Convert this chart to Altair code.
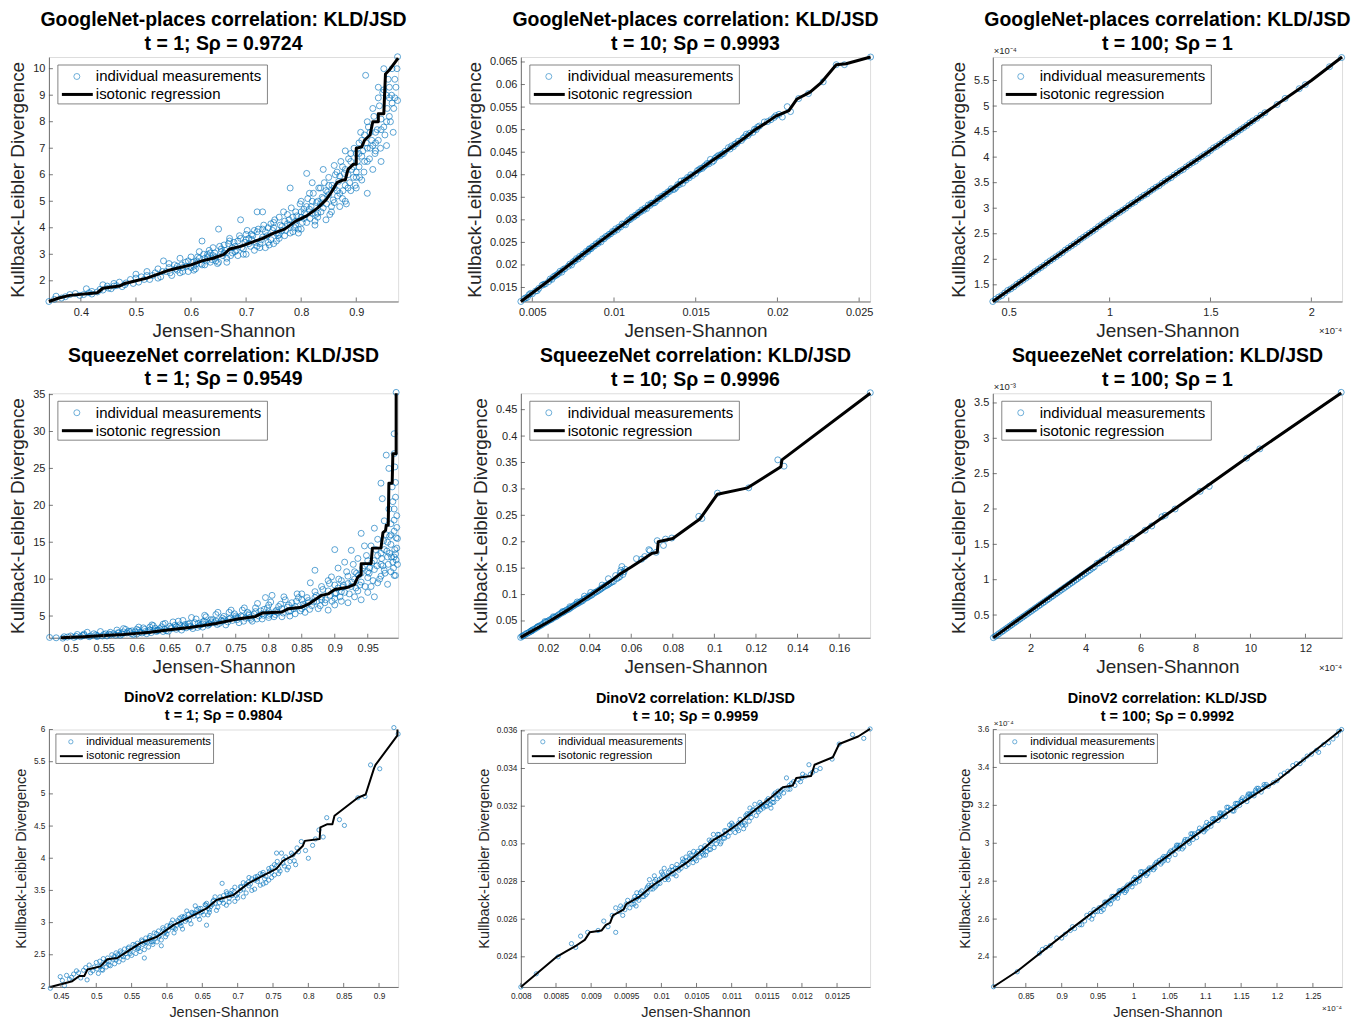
import altair as alt
import pandas as pd

BLUE = "#0072BD"
GRAY = "#262626"
AXC = "#555555"
FONT = "Liberation Sans"

# ---------------- GoogleNet-places, t = 1 ----------------
p1_x = [0.342,0.355,0.365,0.38,0.39,0.405,0.41,0.42,0.43,0.44,0.45,0.46,0.47,0.475,0.49,0.50,
        0.505,0.51,0.52,0.525,0.53,0.54,0.545,0.55,0.555,0.56,0.565,0.57,0.575,0.58,0.585,0.59,0.595,0.60,
        0.605,0.61,0.615,0.62,0.62,0.625,0.63,0.635,0.64,0.645,0.65,0.65,0.655,0.66,0.665,0.67,0.675,0.68,0.685,0.69,0.69,0.695,0.70,0.70,
        0.705,0.71,0.715,0.72,0.72,0.725,0.73,0.73,0.735,0.74,0.745,0.75,0.75,0.755,0.76,0.76,0.765,0.77,0.775,0.78,0.78,0.785,0.79,0.79,0.795,0.80,0.80,0.80,
        0.805,0.81,0.81,0.815,0.82,0.82,0.825,0.83,0.83,0.835,0.84,0.84,0.845,0.85,0.85,0.855,0.86,0.86,0.865,0.87,0.87,0.875,0.88,0.88,0.88,0.885,0.89,0.89,0.895,0.90,0.90,0.90,
        0.905,0.905,0.91,0.91,0.915,0.917,0.92,0.92,0.92,0.925,0.93,0.93,0.935,0.935,0.94,0.94,0.945,0.945,0.95,0.95,0.955,0.955,0.96,0.96,0.965,0.967,0.97,0.975,0.975]
p1_y = [1.22,1.42,1.35,1.48,1.52,1.48,1.7,1.6,1.58,1.85,1.72,1.9,1.95,1.78,2.05,2.25,
        1.95,2.15,2.35,2.05,2.2,2.45,2.15,2.75,2.35,2.5,2.2,2.6,2.4,2.85,2.5,2.7,2.35,2.9,
        2.55,2.75,3.1,2.6,3.5,2.85,3.0,2.7,3.25,2.9,3.95,2.7,3.1,3.35,2.85,3.5,3.05,3.3,2.95,4.3,3.6,3.2,3.75,3.0,
        3.4,3.55,3.15,4.6,3.85,3.4,4.6,3.65,3.25,4.0,3.55,4.2,3.4,3.8,4.4,3.6,4.05,3.7,4.5,5.5,4.1,3.85,4.6,4.25,3.95,5.0,4.4,3.95,
        4.7,6.05,4.2,5.3,4.55,5.7,4.1,5.0,4.4,5.5,6.2,4.75,4.3,5.25,5.9,4.6,5.5,4.95,6.1,5.3,4.8,6.3,6.9,5.6,5.0,6.0,6.5,5.4,5.9,6.8,6.1,5.5,
        7.2,6.3,6.7,5.8,7.5,9.75,8.0,5.3,6.5,7.0,8.5,6.2,7.6,6.9,8.9,7.3,6.5,8.1,10.0,7.8,7.1,9.0,9.3,8.2,10.0,7.6,8.9,10.45,8.8]
p1b_x = [0.352,0.372,0.398,0.415,0.435,0.448,0.455,0.465,0.482,0.495,0.515,0.535,0.548,0.562,0.572,0.583,0.592,0.603,0.608,0.612,
         0.618,0.623,0.628,0.633,0.638,0.643,0.648,0.652,0.658,0.662,0.668,0.672,0.678,0.682,0.688,0.692,0.698,0.702,0.708,0.712,
         0.718,0.722,0.728,0.732,0.738,0.742,0.748,0.752,0.758,0.762,0.768,0.772,0.778,0.782,0.788,0.792,0.798,0.802,0.806,0.812,
         0.816,0.818,0.822,0.826,0.828,0.832,0.836,0.838,0.842,0.846,0.848,0.852,0.856,0.858,0.862,0.866,0.868,0.872,0.876,0.878,
         0.882,0.886,0.888,0.892,0.896,0.898,0.902,0.906,0.908,0.912,0.914,0.918,0.922,0.924,0.928,0.932,0.934,0.938,0.942,0.944,
         0.948,0.952,0.956,0.958,0.962,0.964,0.968,0.972,0.974]
p1b_y = [1.3,1.4,1.45,1.55,1.68,1.8,1.7,1.82,1.92,1.9,2.05,2.3,2.35,2.3,2.45,2.6,2.55,2.7,2.45,2.9,
         2.65,3.0,2.75,3.15,2.8,3.05,2.65,3.3,2.95,3.15,3.4,2.95,3.45,3.15,3.7,3.25,3.45,3.9,3.3,3.7,
         3.45,3.95,3.55,4.1,3.7,3.35,3.9,4.3,3.7,4.1,4.6,3.9,4.3,4.75,4.0,4.45,4.9,4.2,4.55,5.1,
         4.35,4.8,5.3,4.5,4.95,5.5,4.6,5.15,5.7,4.9,5.35,4.5,5.6,5.05,6.0,5.2,5.75,6.5,5.4,6.05,
         4.9,6.6,5.7,6.2,7.0,5.6,6.5,5.9,7.6,6.9,6.1,7.2,7.8,6.6,7.3,8.2,6.8,7.7,8.6,7.0,
         9.1,7.5,8.5,9.6,8.0,9.0,8.5,9.3,10.0]
p1c_x = [0.575,0.585,0.595,0.605,0.615,0.625,0.635,0.645,0.655,0.665,0.675,0.685,0.695,0.705,0.715,0.725,0.735,0.745,0.755,0.765,
         0.775,0.785,0.795,0.805,0.815,0.825,0.835,0.845,0.855,0.865,0.875,0.885,0.895,0.905,0.915,0.925,0.935,0.945,0.955,0.965,
         0.6,0.64,0.68,0.72,0.76,0.8,0.84,0.88,0.92,0.96,0.61,0.63,0.66,0.7,0.74,0.77,0.79,0.81,0.83,0.85,
         0.87,0.89,0.91,0.93,0.95,0.97,0.67,0.71,0.73,0.75,0.78,0.82,0.86,0.9,0.94,0.52,0.54,0.56,0.58,0.5,
         0.48,0.46,0.44,0.42]
p1c_y = [2.55,2.35,2.75,2.4,2.85,2.6,3.05,2.75,3.2,2.7,3.25,3.5,3.0,3.6,3.9,3.25,3.85,4.15,3.5,3.9,
         4.15,4.4,3.8,4.35,4.7,4.25,4.9,5.4,4.8,5.4,5.1,5.5,6.3,6.8,6.5,7.6,7.2,7.7,8.0,8.7,
         2.5,2.95,3.1,3.3,3.75,4.6,5.1,6.2,7.0,8.9,2.65,2.9,3.05,3.55,3.45,4.25,4.1,4.8,4.55,5.6,
         5.95,6.8,7.3,7.1,9.2,9.6,3.6,3.75,3.95,4.0,3.8,5.0,6.35,5.9,9.3,2.2,2.1,2.65,2.3,2.1,
         1.85,1.8,1.65,1.5]
p1_lx = [0.342,0.36,0.38,0.43,0.44,0.47,0.48,0.5,0.52,0.54,0.56,0.58,0.6,0.62,0.64,0.66,0.67,0.69,0.71,0.73,0.75,0.77,0.79,
         0.81,0.83,0.845,0.855,0.865,0.875,0.88,0.885,0.895,0.9,0.9,0.91,0.915,0.925,0.93,0.94,0.94,0.95,0.953,0.96,0.976]
p1_ly = [1.22,1.35,1.45,1.55,1.72,1.8,1.9,2.0,2.1,2.25,2.4,2.5,2.6,2.75,2.85,3.0,3.2,3.3,3.45,3.6,3.8,3.95,4.25,
         4.45,4.75,5.05,5.35,5.7,5.8,5.8,6.2,6.4,6.4,7.0,7.05,7.3,7.5,8.0,8.0,8.3,8.3,9.8,9.95,10.4]

# ---------------- GoogleNet-places, t = 10 ----------------
p2_x = [0.0043,0.0048,0.0052,0.0056,0.006,0.0063,0.0066,0.0069,0.0072,0.0075,0.0078,0.0081,0.0084,0.0087,0.009,0.0093,0.0096,0.0099,
        0.0102,0.0105,0.0108,0.0111,0.0114,0.0117,0.012,0.0123,0.0126,0.0129,0.0132,0.0135,0.0138,0.0141,0.0144,0.0147,0.015,
        0.0153,0.0156,0.0159,0.0161,0.0164,0.0167,0.017,0.0173,0.0176,0.0179,0.0182,0.0186,0.0189,0.0192,0.0196,0.0199,
        0.0203,0.0206,0.0208,0.0213,0.0219,0.0228,0.0236,0.0241,0.0257,
        0.0065,0.0085,0.0107,0.0125,0.0137,0.0155,0.0168,0.0183]
p2_y = [0.0119,0.0134,0.0142,0.0155,0.0163,0.0174,0.0181,0.0190,0.0197,0.0207,0.0213,0.0224,0.0230,0.0241,0.0247,0.0258,0.0264,0.0274,
        0.0278,0.0291,0.0296,0.0306,0.0311,0.0322,0.0325,0.0337,0.0342,0.0352,0.0357,0.0369,0.0372,0.0386,0.0388,0.0400,0.0403,
        0.0414,0.0421,0.0434,0.0431,0.0443,0.0447,0.0460,0.0462,0.0474,0.0481,0.0487,0.0501,0.0508,0.0517,0.0522,0.0531,
        0.0528,0.0551,0.0540,0.0569,0.0580,0.0606,0.0644,0.0644,0.0661,
        0.0178,0.0236,0.0289,0.0338,0.0368,0.0418,0.0452,0.0492]
p2b_x = [0.0045,0.0047,0.005,0.0054,0.0058,0.0061,0.0064,0.0067,0.007,0.0073,0.0076,0.0079,0.0082,0.0085,0.0088,0.0091,0.0094,
         0.0097,0.01,0.0103,0.0106,0.0109,0.0112,0.0115,0.0118,0.0121,0.0124,0.0127,0.013,0.0133,0.0136,0.0139,0.0142,0.0145,
         0.0148,0.0151,0.0154,0.0157,0.016,0.0163,0.0166,0.0171,0.0174,0.0178,0.0181,0.0185,0.0188,0.0194,0.0198,0.0201,
         0.0046,0.0049,0.0053,0.0057,0.0062,0.0068,0.0074,0.0077,0.008,0.0083,0.0086,0.0089,0.0092,0.0095,0.0098,0.0101,
         0.0104,0.011,0.0113,0.0116,0.0119,0.0122,0.0128,0.0131,0.0134,0.014,0.0143,0.0146,0.0152,0.0158,0.0162,0.0165,
         0.0172,0.0175,0.018,0.0187]
p2b_y = [0.0125,0.0128,0.0136,0.0148,0.0158,0.0169,0.0176,0.0186,0.0192,0.0202,0.0209,0.0219,0.0225,0.0235,0.0242,0.0252,0.0258,
         0.0268,0.0274,0.0284,0.0290,0.0300,0.0306,0.0316,0.0321,0.0333,0.0337,0.0348,0.0352,0.0362,0.0367,0.0378,0.0381,0.0394,
         0.0398,0.0409,0.0414,0.0425,0.0428,0.0440,0.0446,0.0457,0.0468,0.0476,0.0490,0.0494,0.0506,0.0518,0.0527,0.0534,
         0.0127,0.0137,0.0143,0.0157,0.0168,0.0184,0.0200,0.0214,0.0218,0.0230,0.0236,0.0247,0.0251,0.0263,0.0269,0.0280,
         0.0284,0.0301,0.0310,0.0317,0.0326,0.0332,0.0347,0.0357,0.0363,0.0378,0.0388,0.0393,0.0411,0.0424,0.0437,0.0442,
         0.0464,0.0469,0.0484,0.0500]
p2_lx = [0.0043,0.006,0.008,0.010,0.012,0.014,0.015,0.016,0.017,0.018,0.0186,0.0193,0.0199,0.0207,0.0212,0.022,0.0227,0.0236,0.0242,0.0257]
p2_ly = [0.0119,0.0165,0.0221,0.0275,0.0328,0.0380,0.0405,0.0431,0.0456,0.0482,0.0499,0.0515,0.0530,0.0542,0.0568,0.0583,0.0605,0.0644,0.0646,0.0661]

# ---------------- GoogleNet-places, t = 100 (x1e-4) ----------------
p3_x = [0.421,0.45,0.48,0.51,0.54,0.57,0.60,0.63,0.66,0.69,0.72,0.75,0.78,0.81,0.84,0.87,0.90,0.93,0.96,0.99,
        1.02,1.05,1.08,1.11,1.14,1.17,1.20,1.23,1.26,1.29,1.32,1.35,1.38,1.41,1.44,1.47,1.50,
        1.53,1.56,1.59,1.62,1.65,1.68,1.71,1.75,1.77,1.83,1.87,1.94,1.97,2.09,2.15]
p3_y = [1.174,1.26,1.34,1.42,1.51,1.59,1.67,1.76,1.84,1.93,2.01,2.09,2.18,2.26,2.34,2.43,2.51,2.59,2.68,2.76,
        2.84,2.92,3.00,3.09,3.17,3.25,3.33,3.41,3.49,3.57,3.65,3.73,3.81,3.89,3.97,4.05,4.13,
        4.21,4.29,4.38,4.46,4.54,4.62,4.71,4.82,4.87,5.03,5.15,5.34,5.42,5.77,5.95]
p3b_x = [0.435,0.465,0.495,0.525,0.555,0.585,0.615,0.645,0.675,0.705,0.735,0.765,0.795,0.825,0.855,0.885,0.915,0.945,0.975,
         1.005,1.035,1.065,1.095,1.125,1.155,1.185,1.215,1.245,1.275,1.305,1.335,1.365,1.395,1.425,1.455,1.485,
         1.515,1.545,1.575,1.605,1.635,1.665,1.695,1.73]
p3b_y = [1.22,1.29,1.39,1.46,1.55,1.63,1.72,1.80,1.88,1.97,2.05,2.13,2.22,2.30,2.39,2.47,2.55,2.64,2.72,
         2.80,2.89,2.96,3.05,3.12,3.21,3.28,3.37,3.44,3.53,3.60,3.69,3.76,3.85,3.92,4.01,4.08,
         4.18,4.25,4.34,4.41,4.50,4.58,4.67,4.76]
p3_lx = [0.421,1.0,1.5,2.0,2.152]
p3_ly = [1.174,2.79,4.13,5.50,5.96]

# ---------------- SqueezeNet, t = 1 ----------------
p4_x = [0.468,0.488,0.49,0.5,0.505,0.51,0.515,0.52,0.525,0.53,0.535,0.54,0.545,0.55,0.555,0.56,0.565,0.57,0.575,0.58,0.585,0.59,0.595,0.6,
        0.605,0.61,0.615,0.62,0.625,0.63,0.635,0.64,0.645,0.65,0.655,0.66,0.665,0.67,0.675,0.68,0.685,0.69,0.695,0.7,0.7,
        0.705,0.71,0.715,0.72,0.725,0.73,0.735,0.74,0.745,0.75,0.755,0.76,0.765,0.77,0.775,0.78,0.785,0.79,0.795,0.8,0.8,0.8,
        0.805,0.81,0.815,0.82,0.825,0.83,0.835,0.84,0.845,0.85,0.85,0.855,0.86,0.865,0.87,0.87,0.875,0.88,0.88,0.885,0.89,0.89,0.895,0.9,0.9,0.9,0.9,
        0.905,0.905,0.91,0.91,0.915,0.915,0.92,0.92,0.925,0.925,0.93,0.93,0.935,0.935,0.94,0.94,0.94,0.945,0.945,0.95,0.95,0.95,
        0.955,0.955,0.96,0.96,0.96,0.965,0.965,0.965,0.97,0.97,0.97,0.972,0.975,0.975,0.975,0.978,0.978,0.98,0.98,0.982,0.982,
        0.985,0.985,0.985,0.987,0.988,0.99,0.99,0.99,0.99,0.99,0.991,0.992,0.992,0.992,0.993,0.993,0.995,0.995]
p4_y = [2.1,2.0,2.2,2.3,2.1,2.5,2.2,2.4,2.8,2.3,2.6,2.2,2.9,2.5,2.3,2.8,2.6,3.1,2.4,3.3,2.7,2.9,2.5,3.2,
        2.8,3.4,2.6,3.1,3.7,2.9,3.3,3.9,3.0,3.6,4.2,3.2,3.8,4.4,3.4,4.0,3.3,4.6,3.7,4.2,3.5,
        4.9,3.9,4.5,5.2,4.0,4.7,3.8,5.5,4.4,5.0,4.1,5.8,4.7,5.3,4.3,6.1,5.0,4.6,7.5,5.6,4.8,6.5,
        7.8,5.2,6.3,4.9,7.2,5.6,6.8,5.3,7.5,6.0,8.0,5.5,7.1,6.4,11.2,8.3,6.0,7.6,9.0,6.8,8.4,5.8,10.3,14.0,7.4,9.2,6.5,
        8.8,11.5,7.0,9.8,8.2,12.3,10.4,6.8,9.0,13.9,11.0,7.6,8.4,12.8,16.2,9.6,7.2,11.8,14.5,10.2,8.2,12.5,
        9.0,14.5,11.3,16.9,7.6,13.2,9.5,15.4,23.0,12.0,10.4,20.9,14.0,17.9,11.2,26.8,16.0,13.0,9.3,25.0,19.5,
        17.5,11.0,14.7,22.5,12.3,29.7,27.0,18.0,16.5,10.5,25.2,23.1,21.1,13.4,35.3,15.6,15.5,12.0]
p4b_x = [0.478,0.495,0.508,0.518,0.528,0.538,0.548,0.558,0.568,0.572,0.578,0.588,0.592,0.598,0.603,0.608,0.612,0.618,0.622,0.628,
         0.632,0.638,0.642,0.648,0.652,0.658,0.662,0.668,0.672,0.678,0.682,0.688,0.692,0.698,0.702,0.708,0.712,0.718,0.722,0.728,
         0.732,0.738,0.742,0.748,0.752,0.758,0.762,0.768,0.772,0.778,0.782,0.788,0.792,0.798,0.802,0.808,0.812,0.818,0.822,0.828,
         0.832,0.838,0.842,0.848,0.852,0.858,0.862,0.868,0.872,0.878,0.882,0.886,0.892,0.896,0.902,0.906,0.908,0.912,0.918,0.922,
         0.926,0.928,0.932,0.936,0.938,0.942,0.946,0.948,0.952,0.956,0.958,0.962,0.964,0.968,0.971,0.974,0.976,0.979,0.981,0.983,
         0.986,0.989,0.991,0.993,0.994,0.992]
p4b_y = [2.05,2.15,2.25,2.35,2.2,2.45,2.3,2.55,2.4,2.75,2.55,2.95,2.6,2.85,3.05,2.7,3.2,2.95,2.75,3.35,
         3.05,3.55,3.2,2.95,3.4,3.75,3.45,3.1,3.65,3.9,3.55,4.1,3.45,3.85,4.3,3.75,4.5,4.1,3.85,4.4,
         4.95,4.2,4.7,5.3,4.5,5.0,4.3,5.5,4.8,5.25,4.6,5.7,5.1,6.1,5.3,4.9,5.8,6.6,5.4,6.2,
         5.0,6.0,7.0,5.7,6.6,7.5,5.9,6.9,7.8,6.4,8.6,7.2,9.4,7.0,8.1,10.0,7.6,8.9,11.0,8.0,
         9.6,12.0,8.8,10.5,9.2,11.5,9.0,13.2,10.8,12.2,9.8,14.0,11.8,10.0,12.8,15.2,10.8,13.8,12.0,15.8,
         13.0,11.5,14.0,12.6,17.0,10.5]
p4c_x = [0.52,0.54,0.56,0.58,0.6,0.62,0.64,0.66,0.68,0.7,0.72,0.74,0.76,0.78,0.8,0.82,0.84,0.86,0.88,0.9,
         0.92,0.94,0.96,0.98,0.99,0.63,0.67,0.71,0.73,0.75,0.77,0.79,0.81,0.83,0.85,0.87,0.89,0.91,0.93,0.95,
         0.97,0.985,0.99,0.994,0.553,0.573,0.593,0.613,0.633,0.653,0.673,0.693,0.713,0.733,0.753,0.773,0.793,0.813,0.833,0.853,
         0.873,0.893,0.913,0.933,0.953,0.973,0.983,0.988,0.994,0.863,0.843,0.823,0.803,0.783,0.763,0.743,0.723,0.703,0.683,0.663,
         0.643,0.623,0.603,0.583]
p4c_y = [2.55,2.35,2.45,2.85,2.55,3.5,2.9,3.55,3.6,3.95,4.3,4.6,4.9,5.6,5.1,6.0,6.3,6.8,7.2,8.0,
         9.4,10.8,12.5,15.0,13.0,3.05,3.5,4.0,4.3,4.75,5.1,5.3,5.6,6.5,7.2,7.5,9.8,8.3,10.0,11.0,
         13.5,16.0,19.5,14.2,2.6,2.7,3.0,2.9,3.1,3.3,3.85,4.0,4.2,4.5,4.8,4.55,5.9,5.5,5.7,6.3,
         7.0,7.8,9.2,10.8,11.5,11.8,13.5,20.5,18.6,9.5,8.0,7.6,6.9,6.7,6.1,5.8,5.5,5.1,4.8,4.3,
         4.0,3.8,3.5,3.2]
p4_lx = [0.485,0.52,0.55,0.58,0.6,0.62,0.65,0.68,0.7,0.72,0.75,0.78,0.79,0.82,0.83,0.85,0.86,0.87,0.88,0.89,0.9,0.92,0.93,0.935,
         0.94,0.94,0.955,0.957,0.97,0.973,0.977,0.978,0.981,0.982,0.987,0.988,0.993,0.993]
p4_ly = [2.06,2.2,2.35,2.5,2.65,2.8,3.15,3.45,3.7,4.0,4.55,4.95,5.4,5.55,6.0,6.2,6.6,7.2,7.8,8.0,8.6,8.9,9.3,10.3,
         10.6,12.1,12.1,14.2,14.2,16.3,16.6,17.3,17.3,23.0,23.0,27.0,27.0,35.2]

# ---------------- SqueezeNet, t = 10 ----------------
p5_x = [0.0068,0.008,0.0095,0.011,0.0125,0.014,0.0155,0.017,0.0185,0.02,0.0215,0.023,0.0245,0.026,0.0275,0.029,0.0305,0.032,
        0.0335,0.035,0.0365,0.038,0.0395,0.041,0.0425,0.044,0.0455,0.047,0.0485,0.05,0.0515,0.053,0.0545,0.056,0.057,0.055,
        0.0555,0.0525,0.046,0.049,0.0405,0.0375,0.034,0.0305,0.027,0.0225,0.0185,0.015,0.012,
        0.0625,0.065,0.0665,0.0685,0.069,0.0725,0.072,0.0755,0.0765,0.0795,0.0925,0.094,0.1015,0.1165,0.1305,0.1335,0.175]
p5_y = [0.019,0.022,0.026,0.029,0.033,0.036,0.040,0.043,0.047,0.050,0.053,0.057,0.060,0.064,0.067,0.071,0.074,0.078,
        0.082,0.085,0.088,0.093,0.096,0.099,0.104,0.107,0.111,0.115,0.118,0.122,0.125,0.130,0.134,0.138,0.148,0.146,
        0.153,0.136,0.118,0.130,0.104,0.097,0.086,0.077,0.068,0.058,0.049,0.039,0.031,
        0.168,0.167,0.172,0.185,0.183,0.202,0.180,0.193,0.205,0.207,0.248,0.244,0.292,0.302,0.355,0.343,0.482]
p5b_x = [0.0075,0.0088,0.0102,0.0118,0.0132,0.0148,0.0162,0.0178,0.0192,0.0208,0.0222,0.0238,0.0252,0.0268,0.0282,0.0298,0.0312,
         0.0328,0.0342,0.0358,0.0372,0.0388,0.0402,0.0418,0.0432,0.0448,0.0462,0.0478,0.0492,0.0508,0.0538,0.0548,0.0565]
p5b_y = [0.021,0.024,0.027,0.031,0.034,0.038,0.041,0.045,0.048,0.052,0.055,0.058,0.062,0.066,0.069,0.072,0.076,
         0.080,0.083,0.087,0.091,0.094,0.098,0.102,0.105,0.109,0.113,0.117,0.120,0.124,0.132,0.141,0.143]
p5_lx = [0.0068,0.02,0.03,0.04,0.05,0.055,0.06,0.065,0.07,0.0725,0.073,0.08,0.093,0.1015,0.116,0.132,0.1325,0.175]
p5_ly = [0.019,0.048,0.072,0.098,0.125,0.140,0.152,0.165,0.178,0.180,0.200,0.206,0.243,0.290,0.302,0.342,0.355,0.481]

# ---------------- SqueezeNet, t = 100 (x1e-4 / x1e-3) ----------------
p6_x = [0.65,0.8,0.95,1.1,1.25,1.4,1.55,1.7,1.85,2.0,2.15,2.3,2.45,2.6,2.75,2.9,3.05,3.2,3.35,3.5,3.65,3.8,3.95,4.1,4.25,
        4.42,4.6,4.84,5.08,5.2,5.5,5.69,6.17,6.41,6.78,6.9,7.26,8.17,8.5,9.86,10.34,13.3]
p6_y = [0.180,0.221,0.262,0.303,0.344,0.385,0.426,0.467,0.508,0.549,0.590,0.631,0.672,0.713,0.754,0.795,0.835,0.876,0.917,0.958,
        0.999,1.040,1.081,1.122,1.163,1.23,1.27,1.35,1.42,1.44,1.53,1.58,1.70,1.76,1.89,1.91,2.00,2.25,2.32,2.72,2.85,3.65]
p6b_x = [0.72,0.87,1.02,1.17,1.32,1.47,1.62,1.77,1.92,2.07,2.22,2.37,2.52,2.67,2.82,2.97,3.12,3.27,3.42,3.57,3.72,3.87,4.02,
         4.17,4.32,4.5,4.7,4.95,5.3]
p6b_y = [0.199,0.240,0.281,0.322,0.363,0.404,0.445,0.486,0.527,0.568,0.609,0.650,0.691,0.732,0.773,0.814,0.855,0.896,0.937,
         0.977,1.018,1.059,1.100,1.141,1.182,1.24,1.29,1.38,1.46]
p6_lx = [0.65,4.0,6.0,8.0,10.0,13.3]
p6_ly = [0.18,1.12,1.66,2.21,2.76,3.64]

# ---------------- DinoV2, t = 1 ----------------
p7_x = [0.435,0.449,0.455,0.462,0.468,0.472,0.478,0.482,0.487,0.49,0.495,0.5,0.503,0.507,0.51,0.514,0.518,0.522,0.526,0.53,
        0.534,0.538,0.542,0.546,0.55,0.554,0.558,0.562,0.566,0.568,0.57,0.574,0.578,0.582,0.586,0.59,0.592,0.594,0.598,0.602,
        0.606,0.61,0.614,0.618,0.621,0.622,0.626,0.63,0.634,0.638,0.642,0.646,0.65,0.654,0.656,0.658,0.662,0.666,0.67,0.674,
        0.678,0.68,0.684,0.688,0.692,0.696,0.7,0.704,0.708,0.712,0.716,0.72,0.724,0.728,0.732,0.736,0.74,0.744,0.748,0.752,
        0.755,0.758,0.762,0.766,0.77,0.774,0.778,0.782,0.786,0.79,0.8,0.815,0.821,0.826,0.844,0.851,0.87,0.88,0.888,0.901,
        0.921,0.927,0.56,0.6,0.64,0.58,0.62,0.66,0.69,0.53,0.57,0.61]
p7_y = [1.98,2.16,2.02,2.12,2.2,2.25,2.14,2.26,2.11,2.34,2.25,2.38,2.21,2.33,2.44,2.31,2.4,2.5,2.36,2.46,
        2.56,2.42,2.52,2.62,2.49,2.6,2.68,2.55,2.66,2.45,2.76,2.62,2.74,2.84,2.7,2.8,2.64,2.92,2.78,2.88,
        2.99,2.84,2.96,3.07,3.09,2.9,3.02,3.13,2.98,3.1,3.2,3.05,3.17,3.28,2.96,3.12,3.25,3.35,3.19,3.31,
        3.61,3.42,3.27,3.38,3.5,3.33,3.45,3.56,3.4,3.6,3.7,3.5,3.66,3.72,3.58,3.78,3.62,3.84,3.7,3.9,
        4.08,3.76,4.08,3.88,3.82,3.95,4.05,3.9,4.1,4.26,4.0,4.44,4.33,4.63,4.6,4.51,4.94,4.96,5.45,5.39,
        6.03,5.93,2.6,2.95,3.15,2.7,3.0,3.2,3.45,2.5,2.7,2.92]
p7b_x = [0.452,0.458,0.465,0.475,0.485,0.492,0.497,0.501,0.505,0.509,0.512,0.516,0.52,0.524,0.528,0.532,0.536,0.54,0.544,0.548,
         0.552,0.556,0.56,0.564,0.568,0.572,0.576,0.58,0.584,0.588,0.592,0.596,0.6,0.604,0.608,0.612,0.616,0.62,0.624,0.628,
         0.632,0.636,0.64,0.644,0.648,0.652,0.656,0.66,0.664,0.668,0.672,0.676,0.68,0.684,0.688,0.692,0.696,0.7,0.704,0.708,
         0.712,0.716,0.72,0.724,0.728,0.732,0.736,0.74,0.744,0.748,0.752,0.756,0.76,0.764,0.768,0.772,0.776,0.78,0.784,0.796,
         0.806,0.81]
p7b_y = [2.1,2.18,2.15,2.22,2.3,2.22,2.31,2.28,2.4,2.26,2.37,2.45,2.33,2.43,2.53,2.39,2.49,2.59,2.46,2.56,
         2.66,2.52,2.63,2.73,2.58,2.69,2.8,2.66,2.76,2.87,2.73,2.84,2.82,2.94,3.04,2.9,3.01,2.95,3.08,3.18,
         3.04,3.15,3.26,3.1,3.22,3.12,3.3,3.16,3.28,3.4,3.24,3.36,3.3,3.48,3.32,3.42,3.55,3.38,3.5,3.62,
         3.46,3.57,3.68,3.52,3.64,3.76,3.6,3.72,3.66,3.86,3.74,3.95,3.8,3.92,4.02,3.86,4.08,3.96,4.16,4.12,
         4.2,4.3]
p7c_x = [0.505,0.515,0.525,0.535,0.545,0.555,0.565,0.575,0.585,0.595,0.605,0.615,0.625,0.635,0.645,0.655,0.665,0.675,0.685,0.695,
         0.705,0.715,0.725,0.735,0.745,0.755,0.765,0.508,0.518,0.528,0.538,0.548,0.558,0.568,0.578,0.588,0.598,0.608,0.618,0.628,
         0.638,0.648,0.658,0.668,0.678,0.688,0.698,0.708,0.718,0.728,0.738,0.748,0.758]
p7c_y = [2.32,2.4,2.47,2.53,2.6,2.65,2.71,2.77,2.83,2.89,2.96,3.03,3.1,3.16,3.22,3.27,3.33,3.4,3.45,3.48,
         3.55,3.63,3.71,3.75,3.8,3.88,3.98,2.27,2.34,2.42,2.47,2.52,2.6,2.68,2.7,2.78,2.86,2.92,2.98,3.05,
         3.14,3.16,3.22,3.3,3.35,3.43,3.42,3.52,3.6,3.68,3.68,3.78,3.84]
p7_lx = [0.435,0.466,0.476,0.483,0.4875,0.506,0.5156,0.5297,0.5438,0.5625,0.586,0.609,0.633,0.656,0.670,0.694,0.715,0.736,
         0.755,0.764,0.778,0.792,0.795,0.816,0.817,0.827,0.834,0.837,0.870,0.881,0.893,0.895,0.926,0.926]
p7_ly = [2.0,2.09,2.17,2.17,2.27,2.32,2.43,2.45,2.55,2.68,2.78,2.96,3.09,3.22,3.35,3.43,3.61,3.73,
         3.84,3.96,4.04,4.19,4.27,4.30,4.48,4.53,4.53,4.66,4.94,4.99,5.40,5.45,5.91,6.0]

# ---------------- DinoV2, t = 10 ----------------
p8_x = [0.0080,0.00822,0.00853,0.00872,0.00878,0.00885,0.00895,0.0091,0.00918,0.00924,0.0093,0.00935,0.0094,0.00945,0.0095,
        0.00955,0.0096,0.00965,0.0097,0.00975,0.0098,0.00985,0.0099,0.00995,0.0100,0.01005,0.0101,0.01015,0.0102,0.01025,
        0.0103,0.01035,0.0104,0.01045,0.0105,0.01055,0.0106,0.01065,0.0107,0.01075,0.0108,0.01085,0.0109,0.01095,0.011,
        0.01105,0.0111,0.01115,0.0112,0.01125,0.0113,0.01135,0.0114,0.01145,0.0115,0.01155,0.0116,0.01165,0.0117,0.01178,
        0.0118,0.01185,0.0119,0.01195,0.0120,0.01205,0.0121,0.01215,0.0122,0.01243,0.01253,0.01272,0.01288,0.01297,
        0.01,0.0105,0.011,0.0115,0.01068,0.01035,0.0098,0.0111,0.01125,0.00965,0.0107]
p8_y = [0.0224,0.0231,0.0240,0.0247,0.0245,0.0251,0.0253,0.0254,0.0259,0.0256,0.0262,0.0253,0.0264,0.0266,0.0268,
        0.0266,0.0270,0.0271,0.0274,0.0272,0.0277,0.0276,0.0280,0.0279,0.0282,0.0281,0.0285,0.0284,0.0287,0.0286,
        0.0290,0.0288,0.0292,0.0290,0.0295,0.0293,0.0297,0.0296,0.0301,0.0298,0.0303,0.0301,0.0307,0.0304,0.0309,
        0.0306,0.0311,0.0310,0.0315,0.0312,0.0318,0.0315,0.0320,0.0319,0.0323,0.0321,0.0326,0.0324,0.0328,0.0335,
        0.0329,0.0332,0.0331,0.0334,0.0335,0.0336,0.0342,0.0338,0.0339,0.0345,0.0353,0.0358,0.0356,0.0361,
        0.0285,0.0291,0.0311,0.0320,0.0302,0.0293,0.0274,0.0307,0.0316,0.0274,0.0297]
p8b_x = [0.00942,0.00948,0.00952,0.00958,0.00962,0.00968,0.00972,0.00978,0.00982,0.00988,0.00992,0.00998,0.01002,0.01008,
         0.01012,0.01018,0.01022,0.01028,0.01032,0.01038,0.01042,0.01048,0.01052,0.01058,0.01062,0.01068,0.01072,0.01078,
         0.01082,0.01088,0.01092,0.01098,0.01102,0.01108,0.01112,0.01118,0.01122,0.01128,0.01132,0.01138,0.01142,0.01148,
         0.01152,0.01158,0.01162,0.01168,0.01172,0.01182,0.01188,0.01198,0.01004,0.01021,0.01046,0.01063,0.01084,0.01097,
         0.01117,0.01133,0.01156,0.00983,0.00964,0.01056,0.01074,0.01126,0.01141,0.0109,0.01015,0.00993,0.0103,0.01166,
         0.00961,0.00967,0.00973,0.00979,0.00986,0.00991,0.00997,0.01003,0.01009,0.01016,0.01023,0.01029,0.01036,0.01043,
         0.01049,0.01057,0.01064,0.01071,0.01077,0.01083,0.01091,0.01099,0.01106,0.01113,0.01121,0.01127,0.01136,0.01144,
         0.01151,0.01159,0.01167,0.01174,0.01183,0.01201,0.01212,0.01226,0.0099,0.0101,0.0104,0.0106,0.0108,0.0112,
         0.0114,0.0116,0.00945,0.00935]
p8b_y = [0.0267,0.0265,0.0270,0.0268,0.0272,0.0270,0.0275,0.0273,0.0278,0.0276,0.0281,0.0279,0.0284,0.0282,
         0.0286,0.0284,0.0289,0.0287,0.0291,0.0289,0.0294,0.0292,0.0296,0.0295,0.0299,0.0297,0.0302,0.0300,
         0.0305,0.0303,0.0307,0.0306,0.0310,0.0308,0.0313,0.0311,0.0316,0.0314,0.0318,0.0317,0.0321,0.0320,
         0.0324,0.0322,0.0327,0.0325,0.0329,0.0331,0.0333,0.0333,0.0287,0.0283,0.0296,0.0294,0.0300,0.0310,
         0.0308,0.0321,0.0319,0.0281,0.0267,0.0298,0.0305,0.0319,0.0318,0.0303,0.0288,0.0278,0.0292,0.0328,
         0.0268,0.0272,0.0272,0.0276,0.0278,0.0277,0.0281,0.0283,0.0283,0.0286,0.0287,0.0289,0.0291,0.0292,
         0.0294,0.0296,0.0298,0.0300,0.0302,0.0303,0.0305,0.0308,0.0309,0.0311,0.0314,0.0316,0.0318,0.0320,
         0.0322,0.0324,0.0326,0.0327,0.0329,0.0337,0.0337,0.0340,0.0283,0.0281,0.0295,0.0294,0.0305,0.0310,
         0.0322,0.0322,0.0262,0.0266]
p8_lx = [0.0080,0.00851,0.00865,0.00879,0.00891,0.00898,0.00915,0.00921,0.00927,0.00931,0.00946,0.0095,0.00969,0.00988,
         0.01012,0.01036,0.01059,0.01074,0.01088,0.01107,0.0113,0.01154,0.01173,0.01187,0.01192,0.01213,0.01218,0.01244,
         0.01253,0.0128,0.01297]
p8_ly = [0.0224,0.0240,0.0243,0.0246,0.0249,0.0253,0.0254,0.0257,0.0258,0.0262,0.0265,0.0268,0.0272,0.0278,
         0.0284,0.0290,0.0297,0.0302,0.0305,0.0310,0.0317,0.0324,0.0330,0.0331,0.0335,0.0336,0.0342,0.0346,
         0.0353,0.0357,0.0361]

# ---------------- DinoV2, t = 100 (x1e-4) ----------------
p9_x = [0.805,0.838,0.869,0.873,0.878,0.884,0.893,0.9,0.905,0.912,0.918,0.925,0.932,0.938,0.944,0.95,0.955,0.96,0.965,0.97,
        0.975,0.98,0.985,0.99,0.995,1.0,1.005,1.01,1.015,1.02,1.025,1.03,1.035,1.04,1.045,1.05,1.055,1.06,1.065,1.07,1.075,
        1.08,1.085,1.09,1.095,1.1,1.105,1.11,1.115,1.12,1.125,1.13,1.135,1.14,1.145,1.15,1.155,1.16,1.165,1.17,1.175,1.18,
        1.185,1.195,1.21,1.222,1.232,1.242,1.255,1.258,1.283,1.286,1.29,
        0.96,0.99,1.02,1.05,1.08,1.11,1.14,1.01,1.07,1.13,0.97,1.04,1.16]
p9_y = [2.243,2.322,2.42,2.44,2.45,2.46,2.50,2.50,2.52,2.54,2.55,2.57,2.59,2.61,2.62,2.64,2.66,2.67,2.69,2.70,
        2.72,2.74,2.75,2.77,2.78,2.81,2.81,2.83,2.84,2.86,2.87,2.89,2.90,2.92,2.93,2.95,2.96,2.98,2.99,3.00,3.02,
        3.03,3.05,3.06,3.07,3.09,3.10,3.11,3.13,3.14,3.15,3.17,3.18,3.19,3.21,3.22,3.23,3.24,3.26,3.27,3.28,3.29,
        3.31,3.32,3.37,3.41,3.42,3.46,3.49,3.48,3.57,3.59,3.60,
        2.69,2.75,2.84,2.93,3.05,3.13,3.17,2.85,2.98,3.19,2.72,2.90,3.26]
p9b_x = [0.952,0.958,0.962,0.968,0.972,0.978,0.982,0.988,0.992,0.998,1.002,1.008,1.012,1.018,1.022,1.028,1.032,1.038,1.042,
         1.048,1.052,1.058,1.062,1.068,1.072,1.078,1.082,1.088,1.092,1.098,1.102,1.108,1.112,1.118,1.122,1.128,1.132,1.138,
         1.142,1.148,1.152,1.158,1.162,1.168,1.172,1.178,1.182,1.188,0.915,0.928,0.935,0.942,0.947,1.003,1.043,1.063,1.083,
         1.103,1.123,1.143,1.163,1.2,1.205,1.215,1.227,1.237,1.248,1.265,1.272,1.278,
         0.961,0.967,0.973,0.979,0.986,0.991,0.997,1.004,1.009,1.016,1.023,1.029,1.036,1.043,1.049,1.057,1.064,1.071,1.077,
         1.084,1.091,1.099,1.106,1.113,1.121,1.127,1.136,1.144,1.151,1.159,1.167,1.174,1.183,0.945,0.94,0.955,1.0,1.06,
         1.1,1.12,1.15,1.17,1.03,0.98]
p9b_y = [2.66,2.65,2.69,2.68,2.72,2.71,2.75,2.74,2.78,2.77,2.82,2.80,2.85,2.83,2.87,2.86,2.90,2.89,2.93,
         2.91,2.96,2.94,2.99,2.97,3.02,3.00,3.05,3.03,3.08,3.06,3.11,3.09,3.13,3.12,3.16,3.14,3.19,3.17,
         3.21,3.20,3.24,3.22,3.26,3.25,3.29,3.27,3.31,3.30,2.56,2.57,2.62,2.60,2.64,2.79,2.91,2.97,3.02,
         3.08,3.14,3.19,3.25,3.33,3.36,3.38,3.42,3.44,3.47,3.52,3.53,3.55,
         2.68,2.70,2.71,2.73,2.76,2.76,2.79,2.81,2.82,2.85,2.86,2.88,2.91,2.92,2.94,2.97,2.98,3.01,3.01,
         3.04,3.06,3.08,3.10,3.12,3.15,3.16,3.18,3.21,3.22,3.25,3.26,3.29,3.30,2.65,2.63,2.64,2.79,2.99,
         3.07,3.16,3.23,3.28,2.87,2.75]
p9_lx = [0.805,0.838,0.9,1.0,1.1,1.15,1.187,1.2,1.25,1.29]
p9_ly = [2.243,2.325,2.51,2.80,3.08,3.21,3.30,3.33,3.48,3.60]

# ---------------- axis ticks and titles ----------------
p1_xt = [0.4,0.5,0.6,0.7,0.8,0.9]; p1_yt = [2,3,4,5,6,7,8,9,10]
p2_xt = [0.005,0.01,0.015,0.02,0.025]; p2_yt = [0.015,0.02,0.025,0.03,0.035,0.04,0.045,0.05,0.055,0.06,0.065]
p3_xt = [0.5,1,1.5,2]; p3_yt = [1.5,2,2.5,3,3.5,4,4.5,5,5.5]
p4_xt = [0.5,0.55,0.6,0.65,0.7,0.75,0.8,0.85,0.9,0.95]; p4_yt = [5,10,15,20,25,30,35]
p5_xt = [0.02,0.04,0.06,0.08,0.1,0.12,0.14,0.16]; p5_yt = [0.05,0.1,0.15,0.2,0.25,0.3,0.35,0.4,0.45]
p6_xt = [2,4,6,8,10,12]; p6_yt = [0.5,1,1.5,2,2.5,3,3.5]
p7_xt = [0.45,0.5,0.55,0.6,0.65,0.7,0.75,0.8,0.85,0.9]; p7_yt = [2,2.5,3,3.5,4,4.5,5,5.5,6]
p8_xt = [0.008,0.0085,0.009,0.0095,0.01,0.0105,0.011,0.0115,0.012,0.0125]; p8_yt = [0.024,0.026,0.028,0.03,0.032,0.034,0.036]
p9_xt = [0.85,0.9,0.95,1,1.05,1.1,1.15,1.2,1.25]; p9_yt = [2.4,2.6,2.8,3,3.2,3.4,3.6]

t_google = "GoogleNet-places correlation: KLD/JSD"
t_squeeze = "SqueezeNet correlation: KLD/JSD"
t_dino = "DinoV2 correlation: KLD/JSD"
subtitles = ["t = 1; Sρ = 0.9724", "t = 10; Sρ = 0.9993", "t = 100; Sρ = 1",
             "t = 1; Sρ = 0.9549", "t = 10; Sρ = 0.9996", "t = 100; Sρ = 1",
             "t = 1; Sρ = 0.9804", "t = 10; Sρ = 0.9959", "t = 100; Sρ = 0.9992"]
leg_labels = ["individual measurements", "isotonic regression"]
x_title = "Jensen-Shannon"
y_title = "Kullback-Leibler Divergence"

W = 350


def panel(px, py, lx, ly, xdom, ydom, xt, yt, title, big, H, xexp=None, yexp=None):
    s = dict(
        ft=19.5 if big else 14.5, lh=24 if big else 18, fa=19 if big else 14.5,
        fl=11 if big else 8.3, fleg=15 if big else 11.3, ps=36 if big else 18,
        lw=3 if big else 2, lp=5 if big else 5, tp=4 if big else 5,
    )
    xs = alt.Scale(domain=xdom, nice=False, zero=False)
    ys = alt.Scale(domain=ydom, nice=False, zero=False)
    xax = alt.Axis(values=xt, format=".6~g", title=x_title, ticks=False, grid=False,
                   labelFont=FONT, labelFontSize=s["fl"], labelColor=GRAY, labelOverlap=False,
                   labelFlush=False, labelPadding=s["lp"], titleFont=FONT, titleFontSize=s["fa"],
                   titleFontWeight="normal", titleColor=GRAY, titlePadding=s["tp"],
                   domainColor=AXC, domainWidth=0.8)
    yax = alt.Axis(values=yt, format=".6~g", title=y_title, ticks=False, grid=False,
                   labelFont=FONT, labelFontSize=s["fl"], labelColor=GRAY, labelOverlap=False,
                   labelFlush=False, labelPadding=4, titleFont=FONT, titleFontSize=s["fa"],
                   titleFontWeight="normal", titleColor=GRAY, titlePadding=5,
                   domainColor=AXC, domainWidth=0.8)
    X = alt.X("x:Q", scale=xs, axis=xax)
    Y = alt.Y("y:Q", scale=ys, axis=yax)

    pts = alt.Chart(pd.DataFrame({"x": px, "y": py})).mark_point(
        shape="circle", filled=False, color=BLUE, size=s["ps"], strokeWidth=0.7, opacity=0.9
    ).encode(x=X, y=Y)
    line = alt.Chart(pd.DataFrame({"x": lx, "y": ly, "o": list(range(len(lx)))})).mark_line(
        color="black", strokeWidth=s["lw"], strokeJoin="round"
    ).encode(x=X, y=Y, order=alt.Order("o:Q"))
    xtick = alt.Chart(pd.DataFrame({"x": xt})).mark_rule(color=AXC, strokeWidth=0.8).encode(
        x=X, y=alt.value(H), y2=alt.value(H - 4))
    ytick = alt.Chart(pd.DataFrame({"y": yt})).mark_rule(color=AXC, strokeWidth=0.8).encode(
        y=Y, x=alt.value(0), x2=alt.value(4))

    one = pd.DataFrame({"a": [0]})
    if big:
        bx0, bx1, by0, by1 = 9, 219, 8, 47
        cx, cy, l0, l1, tx, ty1, ty2 = 28, 19.5, 13, 44, 47, 19.5, 37.5
    else:
        bx0, bx1, by0, by1 = 7, 165, 4.5, 34
        cx, cy, l0, l1, tx, ty1, ty2 = 22, 12.3, 11, 34, 37.5, 12.3, 26.7
    box = alt.Chart(one).mark_rect(fill="white", stroke="#666666", strokeWidth=0.8).encode(
        x=alt.value(bx0), x2=alt.value(bx1), y=alt.value(by0), y2=alt.value(by1))
    lcirc = alt.Chart(one).mark_point(shape="circle", filled=False, color=BLUE, size=s["ps"],
                                      strokeWidth=0.8).encode(x=alt.value(cx), y=alt.value(cy))
    lline = alt.Chart(one).mark_rule(color="black", strokeWidth=s["lw"]).encode(
        x=alt.value(l0), x2=alt.value(l1), y=alt.value(ty2))
    t1 = alt.Chart(one).mark_text(align="left", baseline="middle", font=FONT, fontSize=s["fleg"],
                                  color="black").encode(x=alt.value(tx), y=alt.value(ty1),
                                                        text=alt.value(leg_labels[0]))
    t2 = alt.Chart(one).mark_text(align="left", baseline="middle", font=FONT, fontSize=s["fleg"],
                                  color="black").encode(x=alt.value(tx), y=alt.value(ty2),
                                                        text=alt.value(leg_labels[1]))
    layers = [pts, line, xtick, ytick, box, lcirc, lline, t1, t2]
    efs = 9.5 if big else 8
    toff = -2 if big else 1
    if yexp:
        layers.append(alt.Chart(one).mark_text(align="left", baseline="middle", font=FONT,
                                               fontSize=efs, color=GRAY).encode(
            x=alt.value(1), y=alt.value(-6), text=alt.value(yexp)))
        toff -= 6
    if xexp:
        layers.append(alt.Chart(one).mark_text(align="right", baseline="middle", font=FONT,
                                               fontSize=efs, color=GRAY).encode(
            x=alt.value(W), y=alt.value(H + (30 if big else 22)), text=alt.value(xexp)))
    return alt.layer(*layers).properties(
        width=W, height=H,
        title=alt.TitleParams(text=title, font=FONT, fontSize=s["ft"], fontWeight="bold",
                              color="black", anchor="middle", lineHeight=s["lh"], offset=toff),
    )


e4 = "×10⁻⁴"
e3 = "×10⁻³"
H1, H3 = 245, 258
c1 = panel(p1_x + p1b_x + p1c_x, p1_y + p1b_y + p1c_y, p1_lx, p1_ly, [0.342, 0.976], [1.22, 10.44],
           p1_xt, p1_yt, [t_google, subtitles[0]], True, H1)
c2 = panel(p2_x + p2b_x, p2_y + p2b_y, p2_lx, p2_ly, [0.0043, 0.02567], [0.0119, 0.0661], p2_xt, p2_yt,
           [t_google, subtitles[1]], True, H1)
c3 = panel(p3_x + p3b_x, p3_y + p3b_y, p3_lx, p3_ly, [0.421, 2.152], [1.174, 5.96], p3_xt, p3_yt,
           [t_google, subtitles[2]], True, H1, e4, e4)
c4 = panel(p4_x + p4b_x + p4c_x, p4_y + p4b_y + p4c_y, p4_lx, p4_ly, [0.467, 0.996], [2.06, 35.18],
           p4_xt, p4_yt, [t_squeeze, subtitles[3]], True, H1)
c5 = panel(p5_x + p5b_x, p5_y + p5b_y, p5_lx, p5_ly, [0.0069, 0.1749], [0.0183, 0.481], p5_xt, p5_yt,
           [t_squeeze, subtitles[4]], True, H1)
c6 = panel(p6_x + p6b_x, p6_y + p6b_y, p6_lx, p6_ly, [0.63, 13.33], [0.179, 3.637], p6_xt, p6_yt,
           [t_squeeze, subtitles[5]], True, H1, e4, e3)
c7 = panel(p7_x + p7b_x + p7c_x, p7_y + p7b_y + p7c_y, p7_lx, p7_ly, [0.433, 0.927], [2.0, 6.0],
           p7_xt, p7_yt, [t_dino, subtitles[6]], False, H3)
c8 = panel(p8_x + p8b_x, p8_y + p8b_y, p8_lx, p8_ly, [0.008, 0.01297], [0.0224, 0.03607], p8_xt, p8_yt,
           [t_dino, subtitles[7]], False, H3)
c9 = panel(p9_x + p9b_x, p9_y + p9b_y, p9_lx, p9_ly, [0.804, 1.2906], [2.242, 3.6], p9_xt, p9_yt,
           [t_dino, subtitles[8]], False, H3, e4, e4)

chart = alt.concat(c1, c2, c3, c4, c5, c6, c7, c8, c9, columns=3, bounds="flush",
                   spacing={"row": 92, "column": 123}).properties(
    padding={"left": 0, "top": 0, "right": 5, "bottom": 5}
).configure_view(strokeWidth=0).configure(background="white")

chart.save("out.html", embed_options={"renderer": "svg", "actions": False})
